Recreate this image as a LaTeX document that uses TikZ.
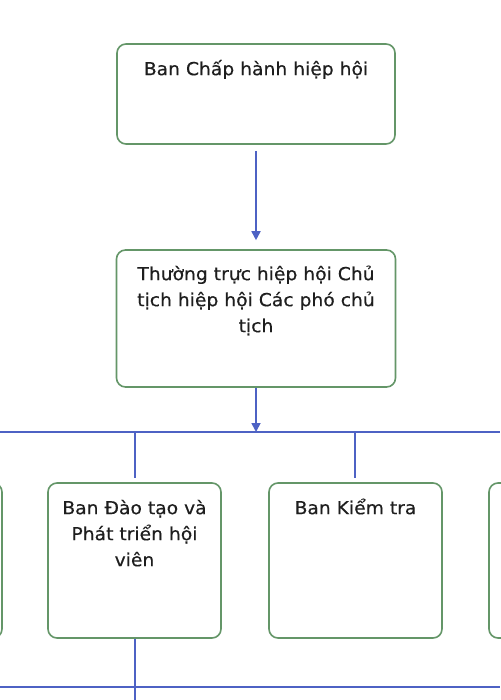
\documentclass[tikz,border=0pt]{standalone}
\usepackage{fontspec}
\setmainfont{DejaVu Sans}[FakeStretch=1.04, FakeBold=0.4]
\usetikzlibrary{arrows.meta}
\definecolor{lineblue}{RGB}{78,98,196}
\definecolor{boxgreen}{RGB}{100,150,104}
\definecolor{txt}{RGB}{30,30,30}
\begin{document}
\begin{tikzpicture}[x=1pt,y=-1pt,
  orgbox/.style={draw=boxgreen, line width=1.6pt, rounded corners=9pt, fill=white, inner sep=0pt},
  lbl/.style={font=\fontsize{18}{26}\selectfont, text=txt, align=center, inner sep=0pt, anchor=base},
  conn/.style={draw=lineblue, line width=1.7pt},
  arr/.style={conn, -{Triangle[length=9pt,width=9pt]}}]
\useasboundingbox[fill=white] (0,0) rectangle (500,700);
% boxes
\node[orgbox, minimum width=278pt, minimum height=100pt] (b1) at (256,94) {};
\node[orgbox, minimum width=279pt, minimum height=137pt] (b2) at (256,318.5) {};
\node[orgbox, minimum width=173pt, minimum height=155pt] (bl) at (-84.5,560.5) {};
\node[orgbox, minimum width=173pt, minimum height=155pt] (ba) at (134.5,560.5) {};
\node[orgbox, minimum width=173pt, minimum height=155pt] (bb) at (355.5,560.5) {};
\node[orgbox, minimum width=173pt, minimum height=155pt] (br) at (575.5,560.5) {};
% texts (base anchor = baseline of last line)
\node[lbl] (t1) at ([yshift=-32pt]b1.north) {Ban Chấp hành hiệp hội};
\node[lbl] (t2) at ([yshift=-83pt]b2.north) {Thường trực hiệp hội Chủ\\tịch hiệp hội Các phó chủ\\tịch};
\node[lbl] (ta) at ([yshift=-84pt]ba.north) {Ban Đào tạo và\\Phát triển hội\\viên};
\node[lbl] (tb) at ([yshift=-32pt]bb.north) {Ban Kiểm tra};
% connectors
\coordinate (hl) at (0,432);
\coordinate (hr) at (500,432);
\coordinate (hm) at (256,432);
\coordinate (ha) at (135,432);
\coordinate (hb) at (355,432);
\coordinate (gl) at (0,687);
\coordinate (gr) at (500,687);
\coordinate (gend) at (135,700);
\draw[arr, shorten <=6pt, shorten >=9pt] (b1.south) -- (b2.north);
\draw[arr] (b2.south) -- (hm);
\draw[conn] (hl) -- (hr);
\draw[conn, shorten >=4pt] (ha) -- (ha |- ba.north);
\draw[conn, shorten >=4pt] (hb) -- (hb |- bb.north);
\draw[conn] (gl) -- (gr);
\draw[conn] (ba.south -| gend) -- (gend);
\end{tikzpicture}
\end{document}
